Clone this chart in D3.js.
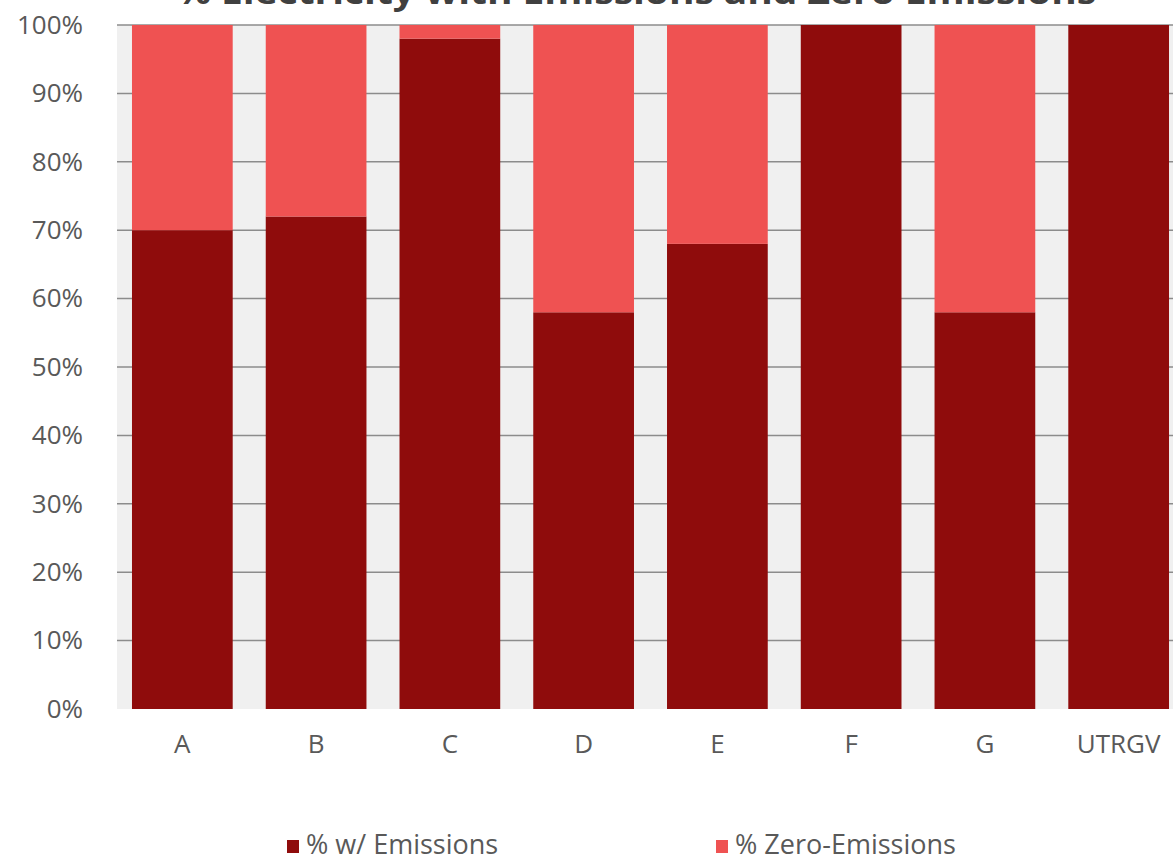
<!DOCTYPE html>
<html lang="en">
<head>
<meta charset="utf-8" />
<title>% Electricity with Emissions and Zero Emissions</title>
<script src="https://d3js.org/d3.v7.min.js"></script>
<style>
  body { margin: 0; background: #fff; }
  svg { display: block; }
  svg text { font-family: "Open Sans", "Liberation Sans", sans-serif; }
</style>
</head>
<body>
<svg></svg>
<script>
    let width = 1173,
        height = 864;

    // data
    var categories = ["A", "B", "C", "D", "E", "F", "G", "UTRGV"];
    var withEmissions = [70, 72, 98, 58, 68, 100, 58, 100];
    var zeroEmissions = [30, 28, 2, 42, 32, 0, 42, 0];
    var seriesNames = ["% w/ Emissions", "% Zero-Emissions"];
    var colors = ["#8f0c0c", "#ef5252"];
    var yTicks = [0, 10, 20, 30, 40, 50, 60, 70, 80, 90, 100];

    let svg = d3.select("svg").attr("width", width).attr("height", height);

    let plot = { left: 117, top: 25, right: 1184, bottom: 709 };

    let x = d3.scaleBand()
        .domain(categories)
        .range([plot.left, plot.right])
        .paddingInner(0.247)
        .paddingOuter(0.112);

    let y = d3.scaleLinear().domain([0, 100]).range([plot.bottom, plot.top]);

    // stacked table
    let table = categories.map((c, i) => ({ cat: c, w: withEmissions[i], z: zeroEmissions[i] }));
    let stack = d3.stack().keys(["w", "z"])(table);

    // plot background
    svg.append("rect")
        .attr("x", plot.left)
        .attr("y", plot.top)
        .attr("width", plot.right - plot.left)
        .attr("height", plot.bottom - plot.top)
        .attr("fill", "#f0f0f0");

    // gridlines
    svg.append("g")
        .selectAll("line")
        .data(yTicks.filter(t => t > 0))
        .enter()
        .append("line")
        .attr("x1", plot.left)
        .attr("x2", plot.right)
        .attr("y1", d => y(d))
        .attr("y2", d => y(d))
        .attr("stroke", "#8c8c8c")
        .attr("stroke-width", 1.5);

    // bars
    svg.append("g")
        .selectAll("g")
        .data(stack)
        .enter()
        .append("g")
        .attr("fill", (d, i) => colors[i])
        .selectAll("rect")
        .data(d => d)
        .enter()
        .append("rect")
        .attr("x", d => x(d.data.cat))
        .attr("width", x.bandwidth())
        .attr("y", d => y(d[1]))
        .attr("height", d => y(d[0]) - y(d[1]));

    // y axis labels
    let yAxis = d3.axisLeft(y)
        .tickValues(yTicks)
        .tickFormat(d => d + "%")
        .tickSize(0)
        .tickPadding(34);
    let gy = svg.append("g").attr("transform", `translate(${plot.left},0)`).call(yAxis);
    gy.select(".domain").remove();
    gy.selectAll("text")
        .attr("fill", "#595959")
        .style("font-family", "'Open Sans', sans-serif")
        .style("font-size", "26px");

    // x axis labels
    let xAxis = d3.axisBottom(x).tickSize(0).tickPadding(0);
    let gx = svg.append("g").attr("transform", `translate(0,${plot.bottom})`).call(xAxis);
    gx.select(".domain").remove();
    gx.selectAll("text")
        .attr("y", 35)
        .attr("dy", "0.35em")
        .attr("fill", "#595959")
        .style("font-family", "'Open Sans', sans-serif")
        .style("font-size", "26px");

    // title (cut off at the top of the picture, as in the source)
    svg.append("text")
        .attr("x", 636)
        .attr("y", 4)
        .attr("text-anchor", "middle")
        .attr("fill", "#404040")
        .style("font-size", "32px")
        .style("font-weight", "bold")
        .attr("textLength", 920)
        .attr("lengthAdjust", "spacingAndGlyphs")
        .text("% Electricity with Emissions and Zero Emissions");

    // legend
    let legendX = [287, 716];
    let legend = svg.append("g")
        .selectAll("g")
        .data(seriesNames)
        .enter()
        .append("g")
        .attr("transform", (d, i) => `translate(${legendX[i]},845)`);
    legend.append("rect")
        .attr("x", 0)
        .attr("y", -5)
        .attr("width", 12)
        .attr("height", 13)
        .attr("fill", (d, i) => colors[i]);
    legend.append("text")
        .attr("x", 19)
        .attr("y", 0)
        .attr("dy", "0.35em")
        .attr("fill", "#595959")
        .style("font-size", "27px")
        .text(d => d);
</script>
</body>
</html>
